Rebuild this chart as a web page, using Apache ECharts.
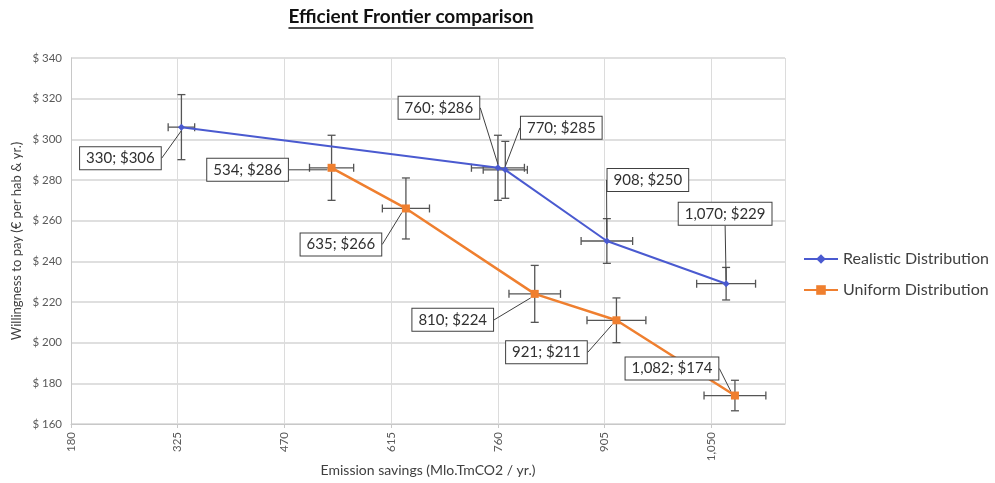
<!DOCTYPE html>
<html>
<head>
<meta charset="utf-8">
<script src="https://cdn.jsdelivr.net/npm/echarts@6/dist/echarts.min.js"></script>
<style>
  html, body { margin: 0; padding: 0; background: #ffffff; }
  #chart { width: 995px; height: 483px; }
</style>
</head>
<body>
<div id="chart"></div>
<script>
// Realistic distribution: emission savings, willingness to pay, and error half-widths
const realX = [330, 760, 770, 908, 1070];
const realY = [306, 286, 285, 250, 229];
const realXErr = [18, 36, 30, 35, 40];
const realYErr = [16, 16, 14, 11, 8];

// Uniform distribution
const uniX = [534, 635, 810, 921, 1082];
const uniY = [286, 266, 224, 211, 174];
const uniXErr = [30, 32, 35, 40, 42];
const uniYErr = [16, 15, 14, 11, 7.5];

// Axis ticks
const xTicks = [180, 325, 470, 615, 760, 905, 1050];
const yTicks = [160, 180, 200, 220, 240, 260, 280, 300, 320, 340];

// Callout offsets (pixels) for the value labels, per point
const realLabelOffsets = [[-61, 31], [-59, -60], [56, -42], [41, -61], [-1, -70]];
const uniLabelOffsets = [[-84, 2], [-65, 36], [-82, 26], [-70, 32], [-63, -27]];

const BLUE = '#4a5ad0';
const ORANGE = '#ef7f2f';
const BAR = '#555555';

const chart = echarts.init(document.getElementById('chart'), null, { renderer: 'canvas' });

function fmtNum(v) {
  return v.toLocaleString('en-US');
}

function pairs(xs, ys) {
  return xs.map((x, i) => [x, ys[i]]);
}

function errData(xs, ys, xe, ye) {
  return xs.map((x, i) => [x, ys[i], xe[i], ye[i]]);
}

// Draws horizontal and vertical error bars with end caps
function renderErr(params, api) {
  const x = api.value(0), y = api.value(1), dx = api.value(2), dy = api.value(3);
  const c = api.coord([x, y]);
  const l = api.coord([x - dx, y]);
  const r = api.coord([x + dx, y]);
  const t = api.coord([x, y + dy]);
  const b = api.coord([x, y - dy]);
  const cap = 4;
  const style = { stroke: BAR, lineWidth: 1.3 };
  const seg = (x1, y1, x2, y2) => ({ type: 'line', shape: { x1, y1, x2, y2 }, style });
  return {
    type: 'group',
    children: [
      seg(l[0], c[1], r[0], c[1]),
      seg(l[0], c[1] - cap, l[0], c[1] + cap),
      seg(r[0], c[1] - cap, r[0], c[1] + cap),
      seg(c[0], t[1], c[0], b[1]),
      seg(c[0] - cap, t[1], c[0] + cap, t[1]),
      seg(c[0] - cap, b[1], c[0] + cap, b[1])
    ]
  };
}

function valueLabel(offsets) {
  return {
    label: {
      show: true,
      position: 'inside',
      formatter: p => fmtNum(p.value[0]) + '; $' + p.value[1],
      fontFamily: 'Lato',
      fontSize: 15,
      color: '#303030',
      backgroundColor: '#ffffff',
      borderColor: '#404040',
      borderWidth: 1,
      padding: [4, 6, 3, 6]
    },
    labelLine: {
      show: true,
      showAbove: false,
      lineStyle: { color: '#404040', width: 1 }
    },
    labelLayout: p => ({ dx: offsets[p.dataIndex][0], dy: offsets[p.dataIndex][1] })
  };
}

const titleText = 'Efficient Frontier comparison';
const titleFont = 'bold 19px Lato';
const measure = document.createElement('canvas').getContext('2d');
measure.font = titleFont;
const titleW = measure.measureText(titleText).width;
const titleCx = 411;

const option = {
  backgroundColor: '#ffffff',
  animation: false,
  graphic: [
    {
      type: 'text',
      left: titleCx - titleW / 2,
      top: 7,
      style: { text: titleText, font: titleFont, fill: '#111111' }
    },
    {
      type: 'line',
      shape: { x1: titleCx - titleW / 2, y1: 28, x2: titleCx + titleW / 2, y2: 28 },
      style: { stroke: '#111111', lineWidth: 1.4 }
    }
  ],
  legend: {
    orient: 'vertical',
    left: 798,
    top: 246,
    itemGap: 15,
    itemWidth: 34,
    itemHeight: 12,
    data: ['Realistic Distribution', 'Uniform Distribution'],
    textStyle: { fontFamily: 'Lato', fontSize: 16, color: '#404040' }
  },
  grid: { left: 71, right: 210, top: 58, bottom: 59, containLabel: false, outerBoundsMode: 'none' },
  xAxis: {
    type: 'value',
    min: xTicks[0],
    max: 1150,
    interval: xTicks[1] - xTicks[0],
    name: 'Emission savings (Mlo.TmCO2 / yr.)',
    nameLocation: 'middle',
    nameGap: 39,
    nameMoveOverlap: false,
    nameTextStyle: { fontFamily: 'Lato', fontSize: 14, color: '#404040' },
    axisLine: { show: true, lineStyle: { color: '#c8c8c8' } },
    axisTick: { show: true, length: 4, lineStyle: { color: '#c8c8c8' } },
    axisLabel: {
      rotate: 90,
      margin: 8,
      showMaxLabel: false,
      fontFamily: 'Lato',
      fontSize: 11.5,
      color: '#595959'
    },
    splitLine: { show: true, lineStyle: { color: '#dcdcdc' } }
  },
  yAxis: {
    type: 'value',
    min: yTicks[0],
    max: yTicks[yTicks.length - 1],
    interval: yTicks[1] - yTicks[0],
    name: 'Willingness to pay (€ per hab & yr.)',
    nameLocation: 'middle',
    nameGap: 48,
    nameMoveOverlap: false,
    nameTextStyle: { fontFamily: 'Lato', fontSize: 13, color: '#404040' },
    axisLine: { show: true, lineStyle: { color: '#c8c8c8' } },
    axisTick: { show: false },
    axisLabel: {
      margin: 9,
      formatter: v => '$ ' + v,
      fontFamily: 'Lato',
      fontSize: 11.5,
      color: '#595959'
    },
    splitLine: { show: true, lineStyle: { color: '#d4d4d4', width: 1.5 } }
  },
  series: [
    {
      name: 'Realistic errors',
      type: 'custom',
      renderItem: renderErr,
      data: errData(realX, realY, realXErr, realYErr),
      z: 3,
      silent: true
    },
    {
      name: 'Uniform errors',
      type: 'custom',
      renderItem: renderErr,
      data: errData(uniX, uniY, uniXErr, uniYErr),
      z: 3,
      silent: true
    },
    Object.assign({
      name: 'Realistic Distribution',
      type: 'line',
      data: pairs(realX, realY),
      symbol: 'diamond',
      symbolSize: 7,
      lineStyle: { color: BLUE, width: 2 },
      itemStyle: { color: BLUE },
      z: 4
    }, valueLabel(realLabelOffsets)),
    Object.assign({
      name: 'Uniform Distribution',
      type: 'line',
      data: pairs(uniX, uniY),
      symbol: 'rect',
      symbolSize: 8,
      lineStyle: { color: ORANGE, width: 2.5 },
      itemStyle: { color: ORANGE },
      z: 4
    }, valueLabel(uniLabelOffsets))
  ]
};

chart.setOption(option);
</script>
</body>
</html>
